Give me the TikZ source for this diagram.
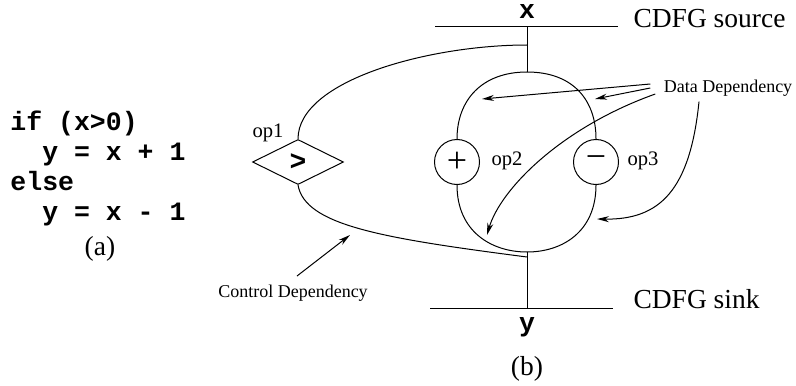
\documentclass[tikz,border=0pt]{standalone}
\usepackage{fontspec}
\setmainfont{Liberation Serif}
\setmonofont{Liberation Mono}
\usetikzlibrary{arrows.meta, shapes.geometric}

\begin{document}
\begin{tikzpicture}[
      x=0.5pt, y=-0.5pt, line width=0.5pt,
      opnode/.style={draw, circle, minimum size=22.5pt, inner sep=0pt, font=\fontsize{18}{18}\selectfont},
      cmpnode/.style={draw, diamond, minimum width=45.5pt, minimum height=22.5pt, inner sep=0pt, font=\fontsize{14}{14}\selectfont\ttfamily\bfseries},
      oplabel/.style={inner sep=0pt, font=\fontsize{10.3}{12}\selectfont},
      note/.style={inner sep=1pt, font=\fontsize{9}{11}\selectfont},
      big/.style={inner sep=0pt, font=\fontsize{13.75}{16}\selectfont},
      var/.style={inner sep=0pt, font=\fontsize{13.25}{15}\selectfont\ttfamily\bfseries},
      arr/.style={-{Stealth[length=6pt, width=3pt]}}
    ]
    \useasboundingbox (0,0) rectangle (796,385);

    % Source code (a)
    \node[var, anchor=west, align=left] (code) at (10,168)
      {if (x>0)\\\hphantom{xx}y = x + 1\\else\\\hphantom{xx}y = x - 1};
    \node[big] (capa) at (100,249) {(a)};

    % CDFG (b)
    \coordinate (srcL) at (435,27);
    \coordinate (srcR) at (618,27);
    \coordinate (src) at (527,27);
    \coordinate (ctop) at (527,45);
    \coordinate (top) at (527,72);
    \coordinate (bot) at (527,252);
    \coordinate (cbot) at (527,257);
    \coordinate (snk) at (527,308);
    \coordinate (snkL) at (430,308);
    \coordinate (snkR) at (613,308);

    \node[var] (xin) at (527,12) {x};
    \node[var, anchor=base] (yout) at (527,331) {y};
    \node[big, anchor=base west] (srclbl) at (633,28) {CDFG source};
    \node[big, anchor=base west] (snklbl) at (633,308) {CDFG sink};
    \node[big] (capb) at (527,369) {(b)};

    \node[cmpnode] (op1) at (298,162) {>};
    \node[opnode] (op2) at (457,162) {+};
    \node[opnode] (op3) at (596,162) {−};
    \node[oplabel] (op1lbl) at (268,133) {op1};
    \node[oplabel] (op2lbl) at (507,161) {op2};
    \node[oplabel] (op3lbl) at (643,161) {op3};

    \node[note] (dd) at (728,88) {Data Dependency};
    \node[note, anchor=base] (cd) at (293,297) {Control Dependency};

    % Edges
    \draw (srcL) -- (srcR);
    \draw (snkL) -- (snkR);
    \draw (src) -- (top);
    \draw (bot) -- (snk);
    \draw (top) .. controls (482,72) and (457,100) .. (op2.north);
    \draw (top) .. controls (573,72) and (596,100) .. (op3.north);
    \draw (op2.south) .. controls (457,232) and (492,252) .. (bot);
    \draw (op3.south) .. controls (596,232) and (562,252) .. (bot);
    \draw (ctop) .. controls (430,45) and (298,80) .. (op1.north);
    \draw (op1.south) .. controls (305,225) and (380,238) .. (cbot);

    % Dependency arrows
    \coordinate (dd1) at (482,99);
    \coordinate (dd2) at (595,99);
    \coordinate (dd3) at (487,235);
    \coordinate (dd4) at (597,219);
    \coordinate (cd1) at (350,235);
    \draw[arr] ([shift={(-11,-4)}]dd.west) -- (dd1);
    \draw[arr] ([shift={(-11,0)}]dd.west) -- (dd2);
    \draw[arr] ([shift={(-6,6)}]dd.west) .. controls (560,128) and (500,190) .. (dd3);
    \draw[arr] ([shift={(-29,3)}]dd.south) .. controls (690,190) and (660,220) .. (dd4);
    \draw[arr] ([shift={(4,-6)}]cd.north) -- (cd1);
  \end{tikzpicture}
\end{document}
